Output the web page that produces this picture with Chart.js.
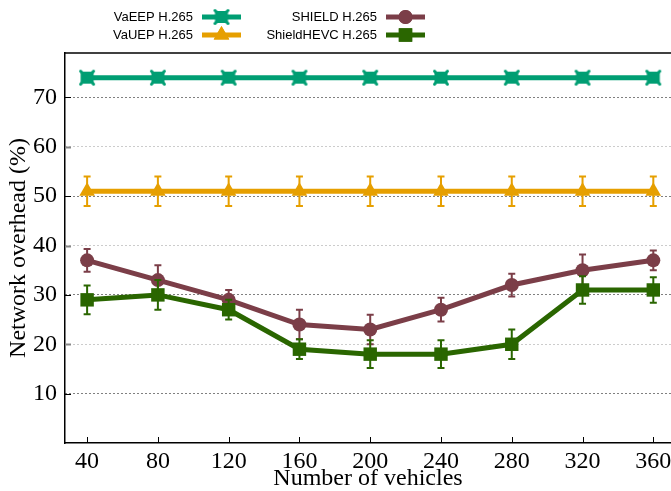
<!DOCTYPE html>
<html><head><meta charset="utf-8">
<script src="https://cdn.jsdelivr.net/npm/chart.js@4"></script>
<style>html,body{margin:0;padding:0;background:#fff}#wrap{width:671px;height:491px}</style>
</head><body><div id="wrap"><canvas id="c" width="671" height="491"></canvas></div>
<script>
const vehicles = [40, 80, 120, 160, 200, 240, 280, 320, 360];
const vaeep = [74, 74, 74, 74, 74, 74, 74, 74, 74];
const vauep = [51, 51, 51, 51, 51, 51, 51, 51, 51];
const vauepErr = [3, 3, 3, 3, 3, 3, 3, 3, 3];
const shield = [37, 33, 29, 24, 23, 27, 32, 35, 37];
const shieldErr = [2.3, 3, 2, 3, 3, 2.4, 2.3, 3.2, 2];
const hevc = [29, 30, 27, 19, 18, 18, 20, 31, 31];
const hevcErr = [2.9, 3, 2, 2, 2.8, 2.8, 3, 2.8, 2.6];
const yTicks = [10, 20, 30, 40, 50, 60, 70];
const xTicks = vehicles;
const seriesNames = ['VaEEP H.265', 'VaUEP H.265', 'SHIELD H.265', 'ShieldHEVC H.265'];
const colors = ['#009e73', '#e69f00', '#7b3e48', '#2a6600'];
const serif = '"Liberation Serif", "Times New Roman", serif';

function vaeepMarker(color) {
  const c = document.createElement('canvas'); c.width = 18; c.height = 18;
  const g = c.getContext('2d');
  g.fillStyle = color; g.fillRect(2.5, 3, 13, 12);
  g.strokeStyle = color; g.lineWidth = 3; g.lineCap = 'round';
  g.beginPath(); g.moveTo(2.5, 2.5); g.lineTo(15.5, 15.5); g.moveTo(15.5, 2.5); g.lineTo(2.5, 15.5); g.stroke();
  return c;
}
const eepImg = vaeepMarker(colors[0]);

function pts(arr) { return vehicles.map((x, i) => ({ x: x, y: arr[i] })); }

const datasets = [
  { label: seriesNames[0], data: pts(vaeep), borderColor: colors[0], backgroundColor: colors[0], pointStyle: eepImg, pointRadius: 8, order: 4 },
  { label: seriesNames[1], data: pts(vauep), err: vauepErr, borderColor: colors[1], backgroundColor: colors[1], pointStyle: 'triangle', pointRadius: 9, order: 3 },
  { label: seriesNames[2], data: pts(shield), err: shieldErr, borderColor: colors[2], backgroundColor: colors[2], pointStyle: 'circle', pointRadius: 7, order: 2 },
  { label: seriesNames[3], data: pts(hevc), err: hevcErr, borderColor: colors[3], backgroundColor: colors[3], pointStyle: 'rect', pointRadius: 9.5, order: 1 }
].map(d => Object.assign(d, { borderWidth: 5, pointBorderWidth: 0, pointBackgroundColor: d.borderColor, showLine: true, fill: false, tension: 0 }));

const errPlugin = {
  id: 'err',
  afterDatasetDraw(chart, args) {
    const ds = chart.data.datasets[args.index];
    if (!ds.err) return;
    const ys = chart.scales.y, ctx = chart.ctx;
    ctx.save();
    ctx.strokeStyle = ds.borderColor; ctx.lineWidth = 2;
    args.meta.data.forEach((pt, i) => {
      const v = ds.data[i].y, e = ds.err[i];
      const y1 = ys.getPixelForValue(v + e), y2 = ys.getPixelForValue(v - e);
      ctx.beginPath();
      ctx.moveTo(pt.x, y1); ctx.lineTo(pt.x, y2);
      ctx.moveTo(pt.x - 3.5, y1); ctx.lineTo(pt.x + 3.5, y1);
      ctx.moveTo(pt.x - 3.5, y2); ctx.lineTo(pt.x + 3.5, y2);
      ctx.stroke();
    });
    ctx.restore();
  }
};

const framePlugin = {
  id: 'frame',
  afterDraw(chart) {
    const ctx = chart.ctx, a = chart.chartArea, xs = chart.scales.x, ys = chart.scales.y;
    ctx.save();
    ctx.strokeStyle = '#000'; ctx.lineWidth = 1.5;
    ctx.beginPath(); ctx.moveTo(a.left, a.top); ctx.lineTo(a.right, a.top); ctx.stroke();
    yTicks.forEach(v => {
      const y = Math.round(ys.getPixelForValue(v)) + 0.5;
      ctx.strokeStyle = (v % 20 === 0) ? '#888' : '#000';
      ctx.lineWidth = (v % 20 === 0) ? 2 : 1;
      ctx.beginPath(); ctx.moveTo(a.left, y); ctx.lineTo(a.left + 6, y); ctx.stroke();
    });
    ctx.strokeStyle = '#000'; ctx.lineWidth = 1;
    xTicks.forEach(v => {
      const x = Math.round(xs.getPixelForValue(v)) + 0.5;
      ctx.beginPath(); ctx.moveTo(x, a.bottom); ctx.lineTo(x, a.bottom - 6); ctx.stroke();
    });
    ctx.font = '13px "Liberation Sans", Arial, sans-serif';
    ctx.textAlign = 'right'; ctx.textBaseline = 'middle'; ctx.fillStyle = '#000';
    const pos = [[193, 17], [193, 35], [377, 17], [377, 35]];
    chart.data.datasets.forEach((ds, i) => {
      const [tx, ty] = pos[i];
      ctx.fillText(ds.label, tx, ty);
      const x0 = tx + 9, x1 = tx + 48, xm = (x0 + x1) / 2;
      ctx.strokeStyle = ds.borderColor; ctx.lineWidth = 5;
      ctx.beginPath(); ctx.moveTo(x0, ty); ctx.lineTo(x1, ty); ctx.stroke();
      if (ds.pointStyle instanceof HTMLCanvasElement) {
        ctx.drawImage(ds.pointStyle, xm - 9, ty - 9);
      } else {
        ctx.fillStyle = ds.borderColor;
        Chart.helpers.drawPoint(ctx, { pointStyle: ds.pointStyle, radius: ds.pointRadius, rotation: 0, borderWidth: 0 }, xm, ty);
        ctx.fill(); ctx.fillStyle = '#000';
      }
    });
    ctx.restore();
  }
};

new Chart(document.getElementById('c'), {
  type: 'line',
  data: { datasets: datasets },
  options: {
    responsive: false, animation: false,
    layout: { autoPadding: false, padding: { top: 53, right: 0, left: 0, bottom: 0 } },
    plugins: { legend: { display: false }, tooltip: { enabled: false } },
    scales: {
      x: {
        type: 'linear', min: 27.5, max: 370,
        afterBuildTicks: s => { s.ticks = xTicks.map(v => ({ value: v })); },
        afterFit: s => { s.height = 48; s.paddingLeft = 0; s.paddingRight = 0; },
        grid: { display: false },
        border: { display: true, color: '#000', width: 1.5 },
        ticks: { color: '#000', padding: -4, maxRotation: 0, autoSkip: false, font: { family: serif, size: 24 } },
        title: { display: true, text: 'Number of vehicles', color: '#000', padding: { top: 0, bottom: 0 }, font: { family: serif, size: 24, lineHeight: 1 } }
      },
      y: {
        type: 'linear', min: 0, max: 79,
        afterBuildTicks: s => { s.ticks = yTicks.map(v => ({ value: v })); },
        afterFit: s => { s.width = 65; s.paddingTop = 0; s.paddingBottom = 0; },
        grid: { drawTicks: false, lineWidth: 1, color: c => (c.tick && c.tick.value % 20 === 0) ? '#999' : '#000' },
        border: { display: true, color: '#000', width: 1.5, dash: [1, 3] },
        ticks: { color: '#000', padding: 8, font: { family: serif, size: 24 } },
        title: { display: true, text: 'Network overhead (%)', color: '#000', padding: { top: 7, bottom: 0 }, font: { family: serif, size: 24, lineHeight: 1 } }
      }
    }
  },
  plugins: [errPlugin, framePlugin]
});
</script>
</body></html>
